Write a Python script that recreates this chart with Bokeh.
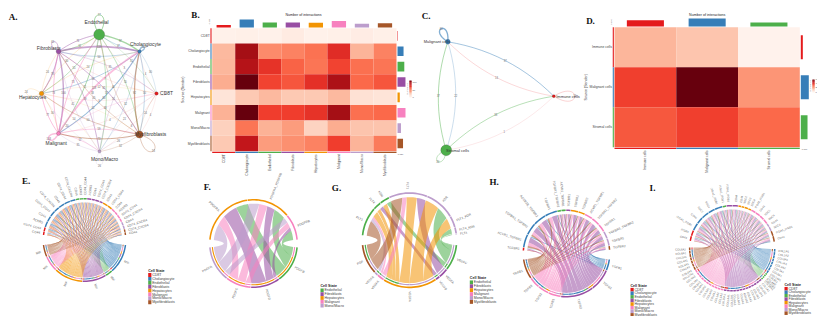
import math
from collections import defaultdict
from bokeh.plotting import figure
from bokeh.models import ColumnDataSource, LinearColorMapper, Range1d
from bokeh.palettes import Reds256
from bokeh.transform import transform
from bokeh.core.properties import value
from bokeh.embed import file_html
from bokeh.resources import INLINE

# ---------------------------- data ----------------------------
cells = ["CD8T", "Cholangiocyte", "Endothelial", "Fibroblasts", "Hepatocytes",
         "Malignant", "Mono/Macro", "Myofibroblasts"]
cell_colors = ["#E41A1C", "#377EB8", "#4DAF4A", "#984EA3", "#F29403", "#F781BF", "#BC9DCC", "#A65628"]

B_counts = [
    [3, 4, 3, 7, 3, 4, 6, 4],
    [30, 103, 47, 50, 56, 80, 32, 50],
    [31, 97, 77, 61, 55, 71, 57, 55],
    [35, 118, 71, 65, 78, 100, 59, 65],
    [12, 24, 30, 24, 24, 30, 14, 12],
    [33, 118, 73, 73, 77, 103, 57, 59],
    [21, 55, 33, 41, 20, 35, 26, 26],
    [24, 92, 41, 45, 50, 73, 32, 53],
]
A_cell_weight = [3, 3, 30, 5.5, 5, 4, 2.2, 13]

groups3 = ["Immune cells", "Malignant cells", "Stromal cells"]
groups3_colors = ["#E41A1C", "#377EB8", "#4DAF4A"]
D_counts = [
    [16, 13, 1],
    [37, 60, 22],
    [33, 37, 30],
]
C_cell_weight = [2.2, 6, 30]

E_top_genes = ["CD44", "CD74_CD44",
               "ACKR3", "CD44", "CD74_CD44", "CD74_CXCR4", "CD44", "CD74_CD44", "CD74_CXCR4",
               "CD44", "ACKR3", "CD74_CD44",
               "ACKR3", "CD44", "CD74_CD44", "CD74_CXCR4",
               "CD44", "CD74_CD44",
               "CD44", "ACKR3", "CD74_CD44", "CD74_CXCR4",
               "CD44", "CD74_CXCR4",
               "CD74_CXCR4", "CD44"]
E_top_cells = [0, 0, 1, 1, 1, 1, 1, 1, 1, 2, 2, 2, 3, 3, 3, 3, 4, 4, 5, 5, 5, 5, 6, 6, 7, 7]
E_top_sizes = [5, 6, 9, 8, 9, 8, 9, 9, 8, 5, 5, 5, 6, 5, 6, 5, 8, 7, 6, 5, 6, 5, 5, 5, 4, 4]
E_bot_genes = ["MIF", "MIF", "MIF", "MIF", "MIF", "MIF"]
E_bot_cells = [1, 2, 3, 4, 5, 7]
E_bot_sizes = [42, 10, 34, 41, 22, 17]

F_top_genes = ["PDGFRA", "PDGFRA_PDGFRB", "PDGFRB"]
F_top_cells = [4, 4, 5]
F_bot_genes = ["PDGFB", "PDGFD", "PDGFC", "PDGFA"]
F_bot_cells = [2, 3, 5, 6]
F_links = [(3, 0, 24), (2, 0, 14), (1, 0, 22), (0, 0, 18),
           (3, 1, 16), (2, 1, 12), (1, 1, 12), (0, 1, 18),
           (3, 2, 8), (2, 2, 8), (1, 2, 5), (0, 2, 14)]

G_top_genes = ["FLT1", "FLT4", "KDR", "FLT1", "KDR", "FLT1_KDR", "FLT4_KDR", "FLT4"]
G_top_cells = [2, 2, 2, 6, 6, 6, 6, 6]
G_bot_genes = ["VEGFC", "VEGFA", "VEGFB", "VEGFA", "VEGFA", "VEGFA", "PGF"]
G_bot_cells = [2, 3, 3, 4, 5, 6, 7]
G_links = [(6, 0, 21), (4, 0, 3), (5, 0, 4), (3, 0, 8),
           (2, 1, 5), (3, 1, 5), (3, 2, 6), (0, 2, 6),
           (6, 3, 16), (4, 3, 6), (3, 3, 14), (1, 3, 12),
           (3, 4, 20), (0, 4, 18), (3, 5, 14), (0, 6, 7), (0, 7, 1)]

H_top_genes = ["TGFBR1", "ACVR1_TGFBR1", "TGFBR1_TGFBR2", "ACVR1B_TGFBR2", "TGFBR1",
               "TGFBR1_TGFBR2", "ACVR1_TGFBR1", "TGFBR1", "TGFBR1", "TGFBR2",
               "ACVR1_TGFBR1", "TGFBR1_TGFBR2", "TGFBR1", "TGFBR1_TGFBR2", "TGFBR1", "TGFBR2"]
H_top_cells = [0, 1, 1, 1, 1, 2, 2, 3, 4, 4, 5, 5, 5, 6, 6, 7]
H_top_sizes = [4, 18, 17, 18, 17, 5, 6, 6, 10, 9, 11, 12, 11, 10, 10, 5]
H_bot_genes = ["TGFB1", "TGFB1", "TGFB2", "TGFB1", "TGFB2", "TGFB3", "TGFB1"]
H_bot_cells = [1, 3, 3, 5, 5, 5, 7]
H_bot_sizes = [15, 30, 45, 17, 15, 15, 27]

I_top_genes = ["CD44", "ITGB1", "ITGA1_ITGB1", "CD44", "SDC1", "SDC4", "ITGA2_ITGB1",
               "ITGA1_ITGB1", "ITGA1_ITGB1", "CD44", "CD44", "SDC1", "SDC2", "SDC4",
               "ITGA2_ITGB1", "CD44", "SDC1", "SDC4", "CD44", "SDC4", "ITGA1_ITGB1", "CD44"]
I_top_cells = [0, 0, 1, 1, 1, 1, 1, 2, 3, 3, 4, 4, 4, 4, 5, 5, 5, 5, 6, 6, 7, 7]
I_top_sizes = [7, 8, 11, 10, 11, 10, 11, 5, 8, 8, 4, 4, 5, 4, 7, 7, 7, 7, 5, 6, 7, 8]
I_bot_genes = ["COL1A1", "COL1A2", "COL3A1", "COL4A1", "COL4A2", "COL5A1", "COL6A1", "COL18A1",
               "COL4A1", "COL4A2", "COL15A1", "COL18A1",
               "COL1A1", "COL1A2", "COL3A1", "COL4A1", "COL4A2", "COL5A1", "COL5A2", "COL6A1",
               "COL6A2", "COL6A3", "COL12A1", "COL14A1", "COL15A1",
               "COL1A1", "COL1A2", "COL4A1", "COL4A2", "COL5A1", "COL5A2", "COL6A1", "COL6A2",
               "COL7A1", "COL9A3", "COL17A1",
               "COL1A1", "COL1A2", "COL3A1", "COL4A1", "COL5A1", "COL6A1", "COL6A3"]
I_bot_cells = [1] * 8 + [2] * 4 + [3] * 13 + [5] * 11 + [7] * 7
I_bot_sizes = [4.4] * 8 + [2.5] * 4 + [4.2] * 13 + [4.4] * 11 + [4.6] * 7

# ---------------------------- canvas ----------------------------
p = figure(width=817, height=316, x_range=Range1d(0, 817), y_range=Range1d(316, 0),
           toolbar_location=None, output_backend="svg", min_border=0)
p.xaxis.visible = False
p.yaxis.visible = False
p.grid.visible = False
p.outline_line_color = None
p.background_fill_color = "white"

SANS = "Liberation Sans"
SERIF = "Liberation Serif"
texts = defaultdict(lambda: dict(x=[], y=[], t=[], a=[]))


def put(x, y, t, size=3.6, color="#333333", align="center", base="middle", angle=0, font=SANS, style="normal"):
    d = texts[(font, size, color, align, base, style)]
    d["x"].append(x)
    d["y"].append(y)
    d["t"].append(str(t))
    d["a"].append(angle)


def qbez(P0, C, P1, n=14):
    out = []
    for k in range(n + 1):
        t = k / n
        out.append(((1 - t) ** 2 * P0[0] + 2 * t * (1 - t) * C[0] + t * t * P1[0],
                    (1 - t) ** 2 * P0[1] + 2 * t * (1 - t) * C[1] + t * t * P1[1]))
    return out


def cbez(P0, C0, C1, P1, n=24):
    out = []
    for k in range(n + 1):
        t = k / n
        u = 1 - t
        out.append((u ** 3 * P0[0] + 3 * u * u * t * C0[0] + 3 * u * t * t * C1[0] + t ** 3 * P1[0],
                    u ** 3 * P0[1] + 3 * u * u * t * C0[1] + 3 * u * t * t * C1[1] + t ** 3 * P1[1]))
    return out


def polar(cx, cy, r, deg):
    a = math.radians(deg)
    return (cx + r * math.cos(a), cy - r * math.sin(a))


def arc(cx, cy, r, d0, d1):
    n = max(2, int(abs(d1 - d0) / 3) + 2)
    return [polar(cx, cy, r, d0 + (d1 - d0) * k / (n - 1)) for k in range(n)]


# ---------------------------- network panels ----------------------------
def network(nodes, matrix, colors, weights, curve, wmax, rscale, loops, label_size, alpha):
    vmax = max(max(r) for r in matrix)
    lines = dict(xs=[], ys=[], c=[], w=[])
    for i, Pi in enumerate(nodes):
        for j, Pj in enumerate(nodes):
            v = matrix[i][j]
            if i == j:
                ux, uy, L = loops[i]
                sp = math.radians(32)
                c0 = (Pi[0] + L * (ux * math.cos(sp) - uy * math.sin(sp)), Pi[1] + L * (ux * math.sin(sp) + uy * math.cos(sp)))
                c1 = (Pi[0] + L * (ux * math.cos(sp) + uy * math.sin(sp)), Pi[1] + L * (-ux * math.sin(sp) + uy * math.cos(sp)))
                pts = cbez(Pi, c0, c1, Pi)
                mid = pts[len(pts) // 2]
            else:
                dx, dy = Pj[0] - Pi[0], Pj[1] - Pi[1]
                ctrl = ((Pi[0] + Pj[0]) / 2 + 2 * curve * dy, (Pi[1] + Pj[1]) / 2 - 2 * curve * dx)
                pts = qbez(Pi, ctrl, Pj)
                mid = pts[len(pts) // 2]
            lines["xs"].append([q[0] for q in pts])
            lines["ys"].append([q[1] for q in pts])
            lines["c"].append(colors[i])
            lines["w"].append(0.15 + wmax * (v / vmax) ** 1.5)
            put(mid[0], mid[1], v, size=label_size, color="#666666")
    p.multi_line("xs", "ys", line_color="c", line_width="w", line_alpha=alpha, source=ColumnDataSource(lines))
    p.scatter([q[0] for q in nodes], [q[1] for q in nodes],
              size=[2 * rscale * math.sqrt(w) for w in weights], fill_color=colors,
              line_color="#333333", line_width=0.2, marker="circle")


A_nodes = [(156, 93), (139, 51), (98.7, 34), (58, 51), (41, 93), (58, 133), (99, 151), (139, 134)]
A_loops = [(1, 0, 14), (0.7, -0.7, 10), (0, -1, 31), (-0.5, -0.85, 18), (-1, -0.1, 24), (-0.85, 0.5, 18),
           (0, 1, 22), (0.65, 0.75, 34)]
network(A_nodes, B_counts, cell_colors, A_cell_weight, 0.06, 1.6, 1.0, A_loops, 2.6, 0.5)
for t, x, y in [("Endothelial", 96, 22), ("Cholangiocyte", 145, 43.7), ("CD8T", 166, 93),
                ("Myofibroblasts", 150, 133.7), ("Mono/Macro", 104, 159), ("Malignant", 55.7, 143),
                ("Hepatocytes", 32, 96.7), ("Fibroblasts", 48.3, 47.7)]:
    put(x, y, t, size=4.9)

C_nodes = [(553.3, 95.7), (447.3, 41.3), (445.7, 149.7)]
C_loops = [(1, 0, 33), (-0.45, -0.9, 23), (-0.6, 0.8, 22)]
network(C_nodes, D_counts, groups3_colors, C_cell_weight, 0.08, 1.2, 1.0, C_loops, 2.6, 0.62)
put(436.5, 41, "Malignant cells", size=4)
put(567.5, 95.7, "Immune cells", size=4)
put(457, 150, "Stromal cells", size=4)


# ---------------------------- heatmap panels ----------------------------
def heatmap(x0, x1, y0, y1, matrix, names, colors, bar_px, bar_frac, lab_size, ylab_x, title_x):
    n = len(names)
    cw, ch = (x1 - x0) / n, (y1 - y0) / n
    vmax = max(max(r) for r in matrix)
    mapper = LinearColorMapper(palette=Reds256[::-1], low=0, high=vmax)
    src = dict(x=[], y=[], v=[])
    for i in range(n):
        for j in range(n):
            src["x"].append(x0 + (j + .5) * cw)
            src["y"].append(y0 + (i + .5) * ch)
            src["v"].append(matrix[i][j])
    p.rect("x", "y", width=cw, height=ch, fill_color=transform("v", mapper), line_color=None, source=ColumnDataSource(src))
    cols = [sum(matrix[i][j] for i in range(n)) for j in range(n)]
    rows = [sum(matrix[i]) for i in range(n)]
    scale = bar_px / max(cols)
    scale_r = bar_px / max(rows)
    for j in range(n):
        xc = x0 + (j + .5) * cw
        yc = y0 + (j + .5) * ch
        h = cols[j] * scale
        w = rows[j] * scale_r
        p.rect([xc], [y0 - .8 - h / 2], width=cw * bar_frac, height=h, fill_color=colors[j], line_color=None)
        p.rect([x1 + 1 + w / 2], [yc], width=w, height=ch * bar_frac, fill_color=colors[j], line_color=None)
        p.rect([xc], [y1 + 1.2], width=cw, height=1.1, fill_color=colors[j], line_color=None)
        p.rect([x0 - 1.2], [yc], width=1.1, height=ch, fill_color=colors[j], line_color=None)
        put(x0 - 2.5, yc, names[j], size=lab_size, align="right", color="#444444")
        put(xc, y1 + 3, names[j], size=lab_size, align="right", angle=math.pi / 2, color="#444444")
    put(ylab_x, (y0 + y1) / 2, "Source (Sender)", size=lab_size + .2, angle=math.pi / 2, color="#333333")
    put(title_x, 14.3, "Number of interactions", size=lab_size + .2, color="#222222")
    return mapper, vmax


B_map, B_max = heatmap(211.7, 396, 27.7, 150.7, B_counts, cells, cell_colors, 8, 0.62, 3.4, 182, 303)
D_map, D_max = heatmap(614, 799.3, 26.7, 146.7, D_counts, groups3, groups3_colors, 8, 0.6, 3.4, 585, 706.7)


def colorbar(x, y0, y1, mapper, vmax, ticks):
    steps = 24
    ys = [y0 + (y1 - y0) * (k + .5) / steps for k in range(steps)]
    vs = [vmax * (steps - k - .5) / steps for k in range(steps)]
    p.rect("x", "y", width=2.2, height=(y1 - y0) / steps + .2,
           fill_color=transform("v", mapper), line_color=None, source=ColumnDataSource(dict(x=[x] * steps, y=ys, v=vs)))
    for t in ticks:
        put(x + 2, y1 - (y1 - y0) * t / vmax, t, size=2.4, align="left", color="#555555")
    put(x - 3, (y0 + y1) / 2, "Number of", size=2.4, angle=math.pi / 2, color="#777777")


colorbar(410, 80, 97, B_map, B_max, [0, 50, 100])
colorbar(813, 79, 92, D_map, D_max, [0, 20, 40, 60])
for x, y, t in [(208.5, 21, "0 120"), (400, 154, "0 120")]:
    put(x, y, t, size=2.2, angle=math.pi / 2 if y < 100 else 0, color="#555555")
for x, y, t in [(611, 21.5, "0 100"), (804, 149, "0 100")]:
    put(x, y, t, size=2.2, angle=math.pi / 2 if y < 100 else 0, color="#555555")


# ---------------------------- chord panels ----------------------------
def allocate(sizes, span, gap):
    total = sum(sizes)
    usable = abs(span[1] - span[0]) - gap * (len(sizes) - 1)
    k = usable / total
    out, a = [], span[0]
    for s in sizes:
        out.append((a, a - s * k))
        a -= s * k + gap
    return out, k


def band(cx, cy, r0, r1, d0, d1):
    pts = arc(cx, cy, r1, d0, d1) + arc(cx, cy, r0, d1, d0)
    return [q[0] for q in pts], [q[1] for q in pts]


def edge_ctrl(cx, cy, A, B, k):
    return (cx + k * ((A[0] + B[0]) / 2 - cx), cy + k * ((A[1] + B[1]) / 2 - cy))


def chord(cx, cy, R, tg, tc, ts, bg, bc, bs, links=None, top_span=(172, 8), bot_span=(-8, -172), lab=3.2, alpha=0.5, waist=0.5):
    if links is not None:
        ts = [sum(l[2] for l in links if l[1] == j) for j in range(len(tg))]
        bs = [sum(l[2] for l in links if l[0] == i) for i in range(len(bg))]
    tspan, tk = allocate(ts, top_span, 0.7)
    bspan, bk = allocate(bs, bot_span, 0.7)
    if links is None:
        # ribbons run between each receptor sector and each sending cell's block
        order = sorted(set(bc), key=bc.index)
        anchors = []
        for c in order:
            idx = [i for i, b in enumerate(bc) if b == c]
            anchors.append((bspan[idx[0]][0], bspan[idx[-1]][1]))
        total = sum(ts)
        sizes = [sum(bs[i] for i, b in enumerate(bc) if b == c) for c in order]
        links = [(g, j, sizes[g] * ts[j] / total) for j in range(len(tg)) for g in range(len(order))]
        acell = order
    else:
        anchors = bspan
        acell = bc
    tstart = [s[0] for s in tspan]
    astart = [s[0] for s in anchors]
    aw = [abs(s[1] - s[0]) for s in anchors]
    tw = [abs(s[1] - s[0]) for s in tspan]
    asum = [sum(l[2] for l in links if l[0] == g) or 1 for g in range(len(anchors))]
    tsum = [sum(l[2] for l in links if l[1] == j) or 1 for j in range(len(tg))]
    t_end, a_end = {}, {}
    for j in range(len(tg)):
        a = tstart[j]
        for l in sorted([l for l in links if l[1] == j], key=lambda q: -q[0]):
            d = l[2] / tsum[j] * tw[j]
            t_end[(l[0], l[1])] = (a, a - d)
            a -= d
    for g in range(len(anchors)):
        a = astart[g]
        for l in sorted([l for l in links if l[0] == g], key=lambda q: -q[1]):
            d = l[2] / asum[g] * aw[g]
            a_end[(l[0], l[1])] = (a, a - d)
            a -= d
    r_rib = R * 0.895
    rib = dict(xs=[], ys=[], c=[])
    ring = dict(xs=[], ys=[], c=[])
    for l in links:
        ta = t_end[(l[0], l[1])]
        ba = a_end[(l[0], l[1])]
        pts = arc(cx, cy, r_rib, ta[0], ta[1])
        B0 = polar(cx, cy, r_rib, ba[0])
        pts += qbez(pts[-1], edge_ctrl(cx, cy, pts[-1], B0, waist), B0)
        pts += arc(cx, cy, r_rib, ba[0], ba[1])
        A0 = polar(cx, cy, r_rib, ta[0])
        pts += qbez(pts[-1], edge_ctrl(cx, cy, pts[-1], A0, waist), A0)
        rib["xs"].append([q[0] for q in pts])
        rib["ys"].append([q[1] for q in pts])
        rib["c"].append(cell_colors[acell[l[0]]])
        x, y = band(cx, cy, R * 0.915, R * 0.94, ba[0], ba[1])
        ring["xs"].append(x)
        ring["ys"].append(y)
        ring["c"].append(cell_colors[tc[l[1]]])
    for spans, genes, cs in [(tspan, tg, tc), (bspan, bg, bc)]:
        for (d0, d1), g, c in zip(spans, genes, cs):
            x, y = band(cx, cy, R * 0.965, R, d0, d1)
            ring["xs"].append(x)
            ring["ys"].append(y)
            ring["c"].append(cell_colors[c])
            m = (d0 + d1) / 2
            px, py = polar(cx, cy, R + 3, m)
            if math.cos(math.radians(m)) >= 0:
                put(px, py, g, size=lab, align="left", angle=math.radians(m), color="#666666")
            else:
                put(px, py, g, size=lab, align="right", angle=math.radians(m + 180), color="#666666")
    p.patches("xs", "ys", fill_color="c", fill_alpha=alpha, line_color=None, source=ColumnDataSource(rib))
    p.patches("xs", "ys", fill_color="c", line_color=None, source=ColumnDataSource(ring))


chord(84, 239.5, 42, E_top_genes, E_top_cells, E_top_sizes, E_bot_genes, E_bot_cells, E_bot_sizes,
      top_span=(173, 7), bot_span=(-7, -173), waist=0.2, alpha=0.55)
chord(253, 243, 44.5, F_top_genes, F_top_cells, None, F_bot_genes, F_bot_cells, None, links=F_links,
      top_span=(175, 5), bot_span=(-5, -175), alpha=0.55, waist=0.5)
chord(409, 239.7, 48, G_top_genes, G_top_cells, None, G_bot_genes, G_bot_cells, None, links=G_links,
      top_span=(174, 7), bot_span=(-6, -174), alpha=0.55, waist=0.5)
chord(566, 253, 44, H_top_genes, H_top_cells, H_top_sizes, H_bot_genes, H_bot_cells, H_bot_sizes,
      top_span=(176, 5), bot_span=(-8, -172), waist=0.2, alpha=0.55)
chord(731.7, 247.7, 43.3, I_top_genes, I_top_cells, I_top_sizes, I_bot_genes, I_bot_cells, I_bot_sizes,
      top_span=(170, 9), bot_span=(-1, -181), lab=2.8, waist=0.15, alpha=0.45)


# ---------------------------- legends and letters ----------------------------
def legend(x, y, who, row):
    put(x, y, "Cell State", size=3.6, align="left", style="bold", color="#222222")
    for k, c in enumerate(who):
        yy = y + 4.2 + k * row
        p.rect([x + 1.6], [yy], width=3.2, height=row, fill_color=cell_colors[c], line_color=None)
        put(x + 4, yy, cells[c], size=3.5, align="left", color="#444444")


legend(147.7, 270.3, list(range(8)), 3.9)
legend(320, 285.7, [2, 3, 4, 5, 6], 3.8)
legend(469.3, 277.7, [2, 3, 4, 5, 6, 7], 3.9)
legend(630, 285, list(range(8)), 3.6)
legend(784, 284, list(range(8)), 3.5)

for t, x, y in [("A.", 12.7, 16), ("B.", 195, 14), ("C.", 425.7, 15), ("D.", 590, 20), ("E.", 25.7, 180),
                ("F.", 206.7, 186), ("G.", 336, 187), ("H.", 493.7, 181.7), ("I.", 652, 187)]:
    put(x, y, t, size=9, color="#111111", font=SERIF, style="bold")

for (font, size, color, align, base, style), d in texts.items():
    p.text("x", "y", text="t", angle="a", text_font=value(font), text_font_size=value(f"{size}px"),
           text_color=color, text_align=align, text_baseline=base, text_font_style=style,
           source=ColumnDataSource(d))

open("out.html", "w").write(file_html(p, INLINE))
